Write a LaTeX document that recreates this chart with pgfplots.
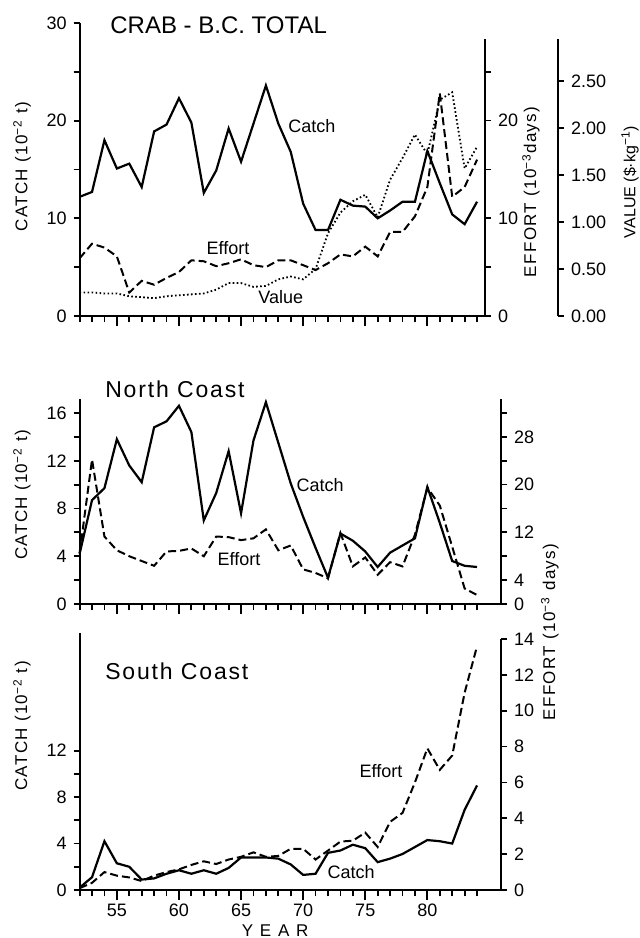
\documentclass[border=0pt]{standalone}
\usepackage{pgfplots}
\usepackage{pgfplotstable}
\pgfplotsset{compat=1.18}
\usepackage{fontspec}
\setmainfont{Liberation Sans}
\newfontfamily\lettering[LetterSpace=8]{Liberation Sans}

\pgfplotstableread{
year catch effort value
52 12.2 5.9 0.25
53 12.7 7.4 0.25
54 18.0 7.0 0.24
55 15.1 6.1 0.24
56 15.6 2.4 0.21
57 13.2 3.6 0.20
58 18.9 3.2 0.19
59 19.6 3.9 0.21
60 22.3 4.5 0.22
61 19.8 5.7 0.23
62 12.6 5.6 0.24
63 14.9 5.1 0.28
64 19.2 5.4 0.35
65 15.8 5.8 0.35
66 19.7 5.2 0.31
67 23.6 5.0 0.32
68 19.7 5.7 0.39
69 16.8 5.7 0.42
70 11.5 5.2 0.39
71 8.8 4.7 0.50
72 8.8 5.4 0.88
73 11.9 6.3 1.10
74 11.3 6.1 1.22
75 11.2 7.1 1.29
76 10.0 6.1 1.05
77 10.8 8.6 1.45
78 11.7 8.6 1.68
79 11.7 10.2 1.93
80 16.9 13.2 1.72
81 13.6 22.8 2.30
82 10.4 12.2 2.38
83 9.4 13.2 1.57
84 11.7 16.0 1.80
}\totaltab

\pgfplotstableread{
year catch effort
52 4.2 8.5
53 8.7 24.2
54 9.7 11.3
55 13.8 9.0
56 11.6 8.0
57 10.2 7.2
58 14.8 6.4
59 15.3 8.8
60 16.6 8.9
61 14.4 9.3
62 7.0 8.0
63 9.3 11.3
64 12.8 11.2
65 7.6 10.7
66 13.7 11.0
67 16.9 12.5
68 13.5 9.0
69 10.1 9.8
70 7.3 5.8
71 4.7 5.2
72 2.2 4.3
73 5.9 11.9
74 5.3 6.3
75 4.4 7.8
76 3.1 4.9
77 4.3 7.0
78 4.9 6.3
79 5.5 11.6
80 9.8 19.5
81 6.8 16.5
82 3.6 9.6
83 3.2 2.6
84 3.1 1.5
}\northtab

\pgfplotstableread{
year catch effort
52 0.2 0.1
53 1.1 0.4
54 4.2 1.0
55 2.3 0.8
56 2.0 0.7
57 0.9 0.5
58 1.0 0.8
59 1.4 1.0
60 1.7 1.15
61 1.4 1.4
62 1.7 1.6
63 1.4 1.45
64 1.9 1.7
65 2.8 1.85
66 2.8 2.1
67 2.8 1.85
68 2.7 1.9
69 2.2 2.3
70 1.3 2.3
71 1.4 1.7
72 3.2 2.2
73 3.4 2.7
74 3.9 2.75
75 3.6 3.2
76 2.4 2.4
77 2.7 3.8
78 3.1 4.3
79 3.7 6.0
80 4.3 7.9
81 4.2 6.7
82 4.0 7.5
83 6.9 11.0
84 9.0 13.6
}\southtab

\tikzset{
  lab/.style={font=\fontsize{9}{9}\selectfont},
  axlab/.style={font=\lettering\fontsize{8.5}{9}\selectfont},
}
\pgfplotsset{
  base/.style={scale only axis, clip=false, anchor=south west,
    every tick/.style={line width=0.9pt, black},
    tick label style={font=\fontsize{9}{9}\selectfont},
    /pgf/number format/assume math mode=true},
  nolinearrows/.style={axis line style={line width=1pt,-},
    x axis line style={-}, y axis line style={-},
    every inner x axis line/.append style={-},
    every outer x axis line/.append style={-},
    every inner y axis line/.append style={-},
    every outer y axis line/.append style={-},
    tick align=outside},
  xaxisonly/.style={base, axis x line=bottom, hide y axis, nolinearrows,
    major tick length=5pt, minor tick length=3.2pt,
    xtick={55,60,...,80}, minor xtick={52,53,...,84}},
  yleft/.style={base, axis y line=left, hide x axis, nolinearrows, major tick length=3pt},
  yright/.style={base, axis y line=right, hide x axis, nolinearrows, major tick length=3pt},
  catchline/.style={black, line width=1.1pt},
  effortline/.style={black, line width=1pt, dash pattern=on 4pt off 2pt},
  valueline/.style={black, line width=0.9pt, dash pattern=on 0.8pt off 1.2pt},
}

\begin{document}
\begin{tikzpicture}
\useasboundingbox (0,0) rectangle (320pt,469pt);
\fill[white] (0,0) rectangle (320pt,469pt);

% ---------------- Panel 1: CRAB - B.C. TOTAL ----------------
\begin{axis}[xaxisonly, at={(39.8pt,311pt)}, width=202.7pt, height=146.5pt,
  xmin=52, xmax=84.64, ymin=0, ymax=30, xticklabels={,,,,,}]
  \addplot[catchline] table[x=year, y=catch] {\totaltab};
  \node[lab] at (axis cs:70.7,19.45) {Catch};
  \node[lab] at (axis cs:63.95,6.96) {Effort};
  \node[lab] at (axis cs:68.2,1.94) {Value};
  \node[anchor=west, inner sep=0pt, font=\fontsize{12}{12}\selectfont] at (rel axis cs:0.075,0.993) {CRAB - B.C. TOTAL};
\end{axis}
\begin{axis}[yleft, at={(39.8pt,311pt)}, width=202.7pt, height=146.5pt,
  xmin=52, xmax=84.64, ymin=0, ymax=30,
  ytick={0,5,...,30}, yticklabels={0,,10,,20,,30},
  ylabel={CATCH (10\textsuperscript{−2} t)},
  every axis y label/.style={at={(rel axis cs:-0.142,0.509)}, rotate=90, anchor=center, axlab}]
\end{axis}
\begin{axis}[yright, at={(39.8pt,311pt)}, width=202.7pt, height=138.5pt,
  xmin=52, xmax=84.64, ymin=0, ymax=28.35,
  ytick={0,5,...,25}, yticklabels={0,,10,,20,},
  ylabel={EFFORT (10\textsuperscript{−3}days)},
  every axis y label/.style={at={(rel axis cs:1.1135,0.448)}, rotate=90, anchor=center, axlab}]
  \addplot[effortline] table[x=year, y=effort] {\totaltab};
\end{axis}
\begin{axis}[yright, at={(39.8pt,311pt)}, width=239.2pt, height=138.5pt,
  xmin=52, xmax=90.52, ymin=0, ymax=2.947,
  ytick={0,0.5,...,2.5}, yticklabels={0.00,0.50,1.00,1.50,2.00,2.50},
  ylabel={VALUE (\$·kg\textsuperscript{−1})},
  every axis y label/.style={at={(rel axis cs:1.1505,0.484)}, rotate=90, anchor=center, font=\fontsize{8}{9}\selectfont}]
  \addplot[valueline] table[x=year, y=value] {\totaltab};
\end{axis}

% ---------------- Panel 2: North Coast ----------------
\begin{axis}[xaxisonly, at={(39.8pt,167pt)}, width=210.7pt, height=102.5pt,
  xmin=52, xmax=85.93, ymin=0, ymax=17.17, xticklabels={,,,,,}]
  \addplot[catchline] table[x=year, y=catch] {\northtab};
  \node[lab] at (axis cs:71.36,9.97) {Catch};
  \node[lab] at (axis cs:64.83,3.77) {Effort};
  \node[anchor=west, inner sep=0pt, font=\lettering\fontsize{11.5}{12}\selectfont] at (rel axis cs:0.060,1.049) {North Coast};
\end{axis}
\begin{axis}[yleft, at={(39.8pt,167pt)}, width=210.7pt, height=102.5pt,
  xmin=52, xmax=85.93, ymin=0, ymax=17.17,
  ytick={0,2,...,16}, yticklabels={0,,4,,8,,12,,16},
  ylabel={CATCH (10\textsuperscript{−2} t)},
  every axis y label/.style={at={(rel axis cs:-0.1367,0.532)}, rotate=90, anchor=center, axlab}]
\end{axis}
\begin{axis}[yright, at={(39.8pt,167pt)}, width=210.7pt, height=102.5pt,
  xmin=52, xmax=85.93, ymin=0, ymax=34.34,
  ytick={0,4,...,32}, yticklabels={0,4,,12,,20,,28,}]
  \addplot[effortline] table[x=year, y=effort] {\northtab};
\end{axis}

% ---------------- Panel 3: South Coast ----------------
\begin{axis}[xaxisonly, at={(39.8pt,24pt)}, width=210.7pt, height=128.5pt,
  xmin=52, xmax=85.93, ymin=0, ymax=22.13,
  xticklabels={55,60,65,70,75,80},
  xticklabel style={yshift=1.5pt},
  xlabel={YEAR},
  every axis x label/.style={at={(rel axis cs:0.464,-0.157)}, anchor=center, font=\lettering\addfontfeature{LetterSpace=40}\fontsize{8.5}{9}\selectfont}]
  \addplot[catchline] table[x=year, y=catch] {\southtab};
  \node[lab] at (axis cs:76.27,10.25) {Effort};
  \node[lab] at (axis cs:73.86,1.55) {Catch};
  \node[anchor=west, inner sep=0pt, font=\lettering\fontsize{11.5}{12}\selectfont] at (rel axis cs:0.060,0.852) {South Coast};
\end{axis}
\begin{axis}[yleft, at={(39.8pt,24pt)}, width=210.7pt, height=128.5pt,
  xmin=52, xmax=85.93, ymin=0, ymax=22.13,
  ytick={0,2,...,12}, yticklabels={0,,4,,8,,12},
  ylabel={CATCH (10\textsuperscript{−2} t)},
  every axis y label/.style={at={(rel axis cs:-0.1367,0.638)}, rotate=90, anchor=center, axlab}]
\end{axis}
\begin{axis}[yright, at={(39.8pt,24pt)}, width=210.7pt, height=125.5pt,
  xmin=52, xmax=85.93, ymin=0, ymax=14,
  ytick={0,2,...,14}, yticklabels={0,2,4,6,8,10,12,14},
  ylabel={EFFORT (10\textsuperscript{−3} days)},
  every axis y label/.style={at={(rel axis cs:1.116,1.028)}, rotate=90, anchor=center, axlab}]
  \addplot[effortline] table[x=year, y=effort] {\southtab};
\end{axis}
\end{tikzpicture}
\end{document}
